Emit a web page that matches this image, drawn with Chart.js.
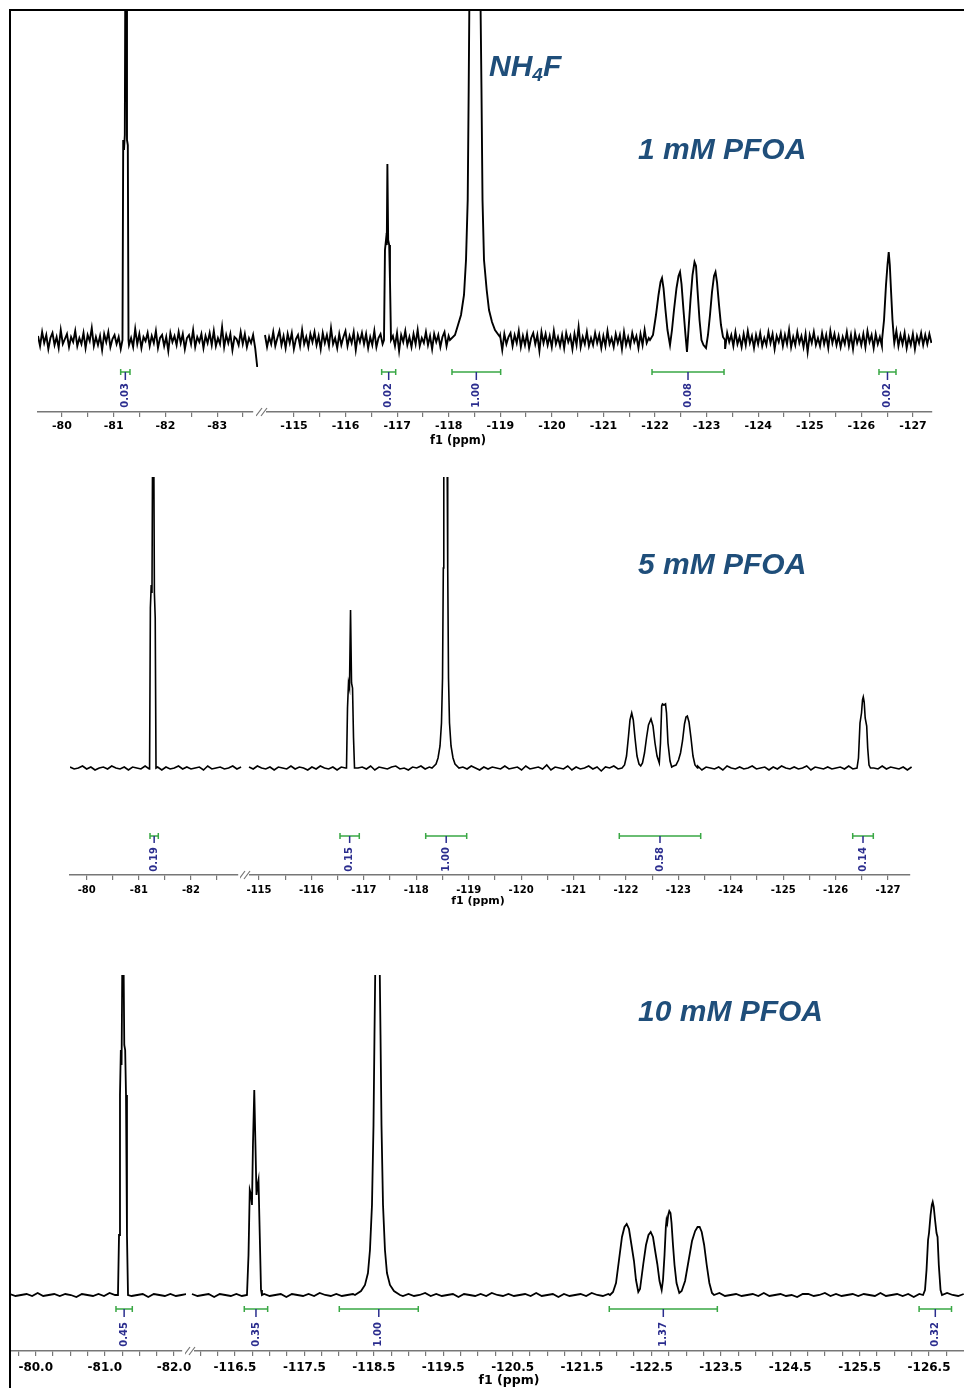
<!DOCTYPE html>
<html><head><meta charset="utf-8">
<script src="https://cdn.jsdelivr.net/npm/chart.js@4.4.1/dist/chart.umd.min.js"></script>
<style>
html,body{margin:0;padding:0;background:#fff;}
#root{position:relative;width:964px;height:1388px;overflow:hidden;background:#fff;}
#frame{position:absolute;left:9px;top:9px;width:970px;height:1400px;border-left:2px solid #000;border-top:2px solid #000;z-index:5;pointer-events:none;}
canvas{position:absolute;}
.big{position:absolute;font-family:"Liberation Sans",Arial,sans-serif;font-weight:bold;font-style:italic;font-size:30px;line-height:30px;color:#1f4e7a;white-space:nowrap;z-index:6;}
.f1{position:absolute;font-family:"DejaVu Sans",sans-serif;font-weight:bold;color:#000;white-space:nowrap;line-height:1;transform:translate(-50%,-50%);z-index:6;}
</style></head><body>
<div id="root">
<div id="frame"></div>
<div class="big" style="left:489px;top:51px;">NH<span style="font-size:19px;position:relative;top:5px;">4</span>F</div>
<div class="big" style="left:638px;top:134px;">1 mM PFOA</div>
<div class="big" style="left:638px;top:549px;">5 mM PFOA</div>
<div class="big" style="left:638px;top:996px;">10 mM PFOA</div>
<div class="f1" style="left:458px;top:441px;font-size:11.5px;">f1 (ppm)</div>
<div class="f1" style="left:478px;top:900px;font-size:11px;">f1 (ppm)</div>
<div class="f1" style="left:509px;top:1380px;font-size:12.5px;">f1 (ppm)</div>
</div>
<script>
// ---------------- DATA (ppm, intensity a.u.) ----------------
// Panel 1 : 1 mM PFOA
const P1_LEFT_NOISE_START = -79.536, P1_RIGHT_NOISE_START = -114.438, P1_NOISE_STEP = -0.04;
const p1LeftNoise = [4,-6,8,-3,5,-9,2,7,-5,3,-8,10,-4,1,6,-7,3,-2,9,-6,
 2,-4,7,-8,5,-1,12,-6,3,-5,4,-10,6,-2,8,-7,1,5,-4,3,
 -9,6,-3,8,-5,2,-7,11,-4,6,-8,3,-1,7,-6,4,-3,9,-8,2,
 5,-6,3,-11,7,-2,4,-5,8,-3,6,-9,2,5,-4,10,-7,3,-2,6,
 -8,4,-3,7,-5,9,-6,2,-4,13,-7,5,-3,6,-10,3,1,-5,8,-4,
 6,-7,2,-3,5,-8,-27];
const p1RightNoise = [5,-7,3,-4,8,-6,2,9,-5,4,-8,6,-3,7,-9,1,5,-6,10,-4,
 3,-7,6,-2,8,-5,4,-9,7,-3,5,-6,12,-4,2,-8,6,-5,3,9,
 -6,4,-3,8,-10,5,-2,7,-4,6,-8,3,-5,9,-7,2,6,-4,5,-9,
 8,-3,4,-6,7,-11,5,-2,9,-5,3,-7,6,-4,10,-6,2,-3,8,-5,
 4,-9,6,-2,5,-7,3,8,-6,4,-4,11,-8,5,-3,7,-6,2,-5,9,
 -4,6,-8,3,7,-5,2,-9,6,-3,5,-7,8,-2,4,-10,6,-4,3,7,
 -6,5,-3,9,-7,4,-5,6,-8,2,7,-4,5,-11,8,-3,6,-5,4,-7,
 9,-4,3,-6,5,-8,7,-2,4,-9,6,-5,13,-7,3,-4,8,-6,2,-5,
 7,-3,5,-8,4,-6,9,-4,2,-7,6,-3,5,-9,8,-5,3,-6,7,-2,
 4,-8,6,-5,10,-3,2,-7,5,-4,8,-6,3,-9,6,-2,4,-7,9,-5,
 3,-6,7,-4,5,-10,8,-3,6,-5,2,-8,7,-4,5,-6,11,-3,4,-7,
 6,-5,3,-9,7,-2,5,-6,8,-4,3,-7,6,-5,9,-3,4,-8,5,-4,
 7,-6,2,-5,8,-3,6,-9,4,-2,7,-6,5,-4,10,-7,3,-5,8,-3,
 4,-7,6,-12,5,-3,8,-5,2,-6,7,-4,5,-8,9,-3,6,-5,4,-7,
 3,-4,8,-6,5,-9,7,-3,4,-5,6,-7,9,-2,5,-8,6,-4,3,-6,
 8,-5,4,-7,6,-3,9,-6,5,-4,7,-8,3,-5,6,-9,4,-3,7,-5,
 5,-4,6,-3];
const p1Peak81 = [[-81.170,0],[-81.184,200],[-81.199,190],[-81.215,205],[-81.228,420],[-81.244,380],[-81.257,200],[-81.273,195],[-81.286,0]];
const p1Peak117 = [[-116.745,0],[-116.764,90],[-116.784,100],[-116.799,95],[-116.811,176],[-116.826,100],[-116.846,95],[-116.861,60],[-116.881,0]];
const p1PeakNH4F = [[-118.024,0],[-118.121,5],[-118.180,15],[-118.238,25],[-118.296,45],[-118.335,80],[-118.368,140],[-118.387,250],[-118.399,330],[-118.412,500],[-118.509,1500],[-118.606,500],[-118.618,330],[-118.635,250],[-118.655,140],[-118.684,80],[-118.736,50],[-118.781,30],[-118.839,18],[-118.897,10],[-118.994,3]];
const p1Peak122 = [[-121.902,0],[-121.960,5],[-122.018,25],[-122.067,45],[-122.106,58],[-122.135,62],[-122.164,52],[-122.202,30],[-122.241,10],[-122.290,-5],[-122.328,10],[-122.367,30],[-122.416,52],[-122.455,64],[-122.484,68],[-122.513,56],[-122.551,30],[-122.590,5],[-122.619,-12],[-122.648,10],[-122.687,40],[-122.726,65],[-122.765,78],[-122.794,74],[-122.823,50],[-122.862,20],[-122.900,0],[-122.939,-5],[-122.988,-8],[-123.026,5],[-123.065,25],[-123.104,48],[-123.143,64],[-123.172,68],[-123.201,58],[-123.240,35],[-123.278,15],[-123.317,3],[-123.356,0]];
const p1Peak126 = [[-126.400,0],[-126.439,20],[-126.477,55],[-126.506,75],[-126.530,88],[-126.551,75],[-126.574,50],[-126.603,20],[-126.632,0]];
const p1Integrals = [[-81.135,-81.315,'0.03'],[-116.700,-116.972,'0.02'],[-118.063,-119.007,'1.00'],[-121.941,-123.337,'0.08'],[-126.341,-126.671,'0.02']];

// Panel 2 : 5 mM PFOA
const P2_LEFT_NOISE_START = -79.68, P2_RIGHT_NOISE_START = -114.809, P2_NOISE_STEP = -0.08;
const p2LeftNoise = [1,-1,0,2,-1,1,-2,0,1,-1,2,0,-1,1,-2,1,0,-1,2,-1,0,1,-2,1,-1,0,2,-1,1,-1,0,1,-2,2,-1,0,1,-1,0,2,-1,1];
const p2RightNoise = [1,-1,2,0,-1,1,-2,1,0,-1,2,-1,1,0,-2,1,-1,2,0,-1,
 1,-2,1,0,2,-1,0,1,-1,2,-2,1,0,-1,1,2,-1,0,-2,1,
 0,2,-1,1,-1,0,2,-2,1,-1,0,1,-1,2,0,-2,1,-1,1,0,
 -1,2,-1,0,1,-2,2,-1,0,1,-1,3,-2,1,0,-1,2,-2,1,-1,
 0,2,-1,1,-3,1,0,2,-1,1,-2,0,1,-1,2,-1,0,1,-2,1,
 -1,0,2,-1,1,-1,0,2,-2,1,0,-1,1,-2,2,0,-1,1,-1,0,
 2,-1,0,1,-2,1,-1,2,0,-1,1,-1,0,2,-2,1,0,-1,1,-1,
 0,1,-1,2,-1,0,1,-2,1,0,-1,2,-1,1,0,-1,1,-2,1];
const p2Peak81 = [[-81.206,0],[-81.221,160],[-81.237,183],[-81.252,175],[-81.268,380],[-81.283,360],[-81.298,175],[-81.314,150],[-81.329,0]];
const p2Peak117 = [[-116.669,0],[-116.688,60],[-116.707,85],[-116.726,80],[-116.746,158],[-116.765,85],[-116.784,80],[-116.803,30],[-116.822,0]];
const p2PeakNH4F = [[-118.300,0],[-118.377,4],[-118.415,10],[-118.453,22],[-118.481,45],[-118.501,90],[-118.516,200],[-118.525,300],[-118.539,600],[-118.558,900],[-118.577,600],[-118.590,300],[-118.600,200],[-118.615,90],[-118.634,45],[-118.663,22],[-118.701,10],[-118.739,4],[-118.815,0]];
const p2Peak122 = [[-121.925,0],[-121.973,3],[-122.011,12],[-122.049,32],[-122.077,48],[-122.110,55],[-122.140,48],[-122.173,30],[-122.211,12],[-122.249,4],[-122.282,2],[-122.316,5],[-122.354,15],[-122.392,30],[-122.430,43],[-122.478,49],[-122.516,42],[-122.554,25],[-122.593,12],[-122.636,5],[-122.659,25],[-122.682,62],[-122.697,64],[-122.726,63],[-122.755,64],[-122.774,55],[-122.802,25],[-122.841,7],[-122.873,1],[-122.907,2],[-122.955,3],[-123.003,8],[-123.041,15],[-123.079,27],[-123.117,44],[-123.146,51],[-123.171,52],[-123.203,46],[-123.241,30],[-123.279,12],[-123.317,3],[-123.365,0]];
const p2Peak126 = [[-126.408,0],[-126.436,10],[-126.465,45],[-126.494,55],[-126.513,68],[-126.528,71],[-126.545,66],[-126.564,50],[-126.593,42],[-126.612,20],[-126.637,3],[-126.665,0]];
const p2Integrals = [[-81.214,-81.373,'0.19'],[-116.545,-116.913,'0.15'],[-118.180,-118.962,'1.00'],[-121.873,-123.426,'0.58'],[-126.326,-126.719,'0.14']];

// Panel 3 : 10 mM PFOA
const P3_LEFT_NOISE_START = -79.628, P3_RIGHT_NOISE_START = -115.880, P3_NOISE_STEP = -0.08;
const p3LeftNoise = [1,-1,0,1,-1,2,-1,0,1,-1,1,0,-2,1,0,-1,1,-1,2,0,-1,1,-1,0,1,-2,1,0,-1,1,-1,0,1];
const p3RightNoise = [1,-1,0,1,-2,1,0,-1,1,-1,2,0,-1,1,-1,0,1,-2,1,0,
 -1,1,-1,2,0,-1,1,-1,0,1,-1,2,-1,0,1,-2,1,0,-1,1,
 -1,0,2,-1,1,-1,0,1,-2,1,0,-1,1,-1,2,0,-1,1,-1,0,
 1,-1,2,-1,0,1,-2,1,-1,0,1,-1,2,0,-1,1,-1,0,1,-2,
 1,0,-1,1,-1,2,-1,0,1,-1,1,-2,1,0,-1,2,-1,0,1,-1,
 0,1,-1,2,-1,0,1,-1,0,-2,1,1,-1,0,2,-1,1,-1,0,1,
 -1,1,0,-1,2,-1,0,1,-1,1,-2,1,0,-1,1,-1,2,0,-1,1];
const p3Peak81 = [[-81.190,0],[-81.205,60],[-81.219,200],[-81.231,245],[-81.242,230],[-81.255,360],[-81.270,340],[-81.281,250],[-81.294,245],[-81.306,200],[-81.320,60],[-81.335,0]];
const p3Peak117 = [[-116.673,0],[-116.695,40],[-116.713,105],[-116.731,100],[-116.745,90],[-116.759,150],[-116.778,205],[-116.795,150],[-116.810,100],[-116.826,110],[-116.839,115],[-116.857,60],[-116.875,5],[-116.889,0]];
const p3PeakNH4F = [[-118.229,0],[-118.316,4],[-118.373,10],[-118.416,22],[-118.445,45],[-118.474,90],[-118.496,170],[-118.510,260],[-118.522,330],[-118.553,900],[-118.585,330],[-118.597,260],[-118.611,170],[-118.633,90],[-118.661,45],[-118.690,22],[-118.733,10],[-118.791,4],[-118.878,0]];
const p3Peak122 = [[-121.903,0],[-121.947,3],[-121.990,12],[-122.033,35],[-122.076,58],[-122.112,68],[-122.144,71],[-122.177,66],[-122.213,50],[-122.249,34],[-122.278,15],[-122.311,3],[-122.336,6],[-122.383,31],[-122.422,50],[-122.458,60],[-122.490,63],[-122.523,58],[-122.559,42],[-122.585,31],[-122.617,14],[-122.648,5],[-122.667,15],[-122.689,40],[-122.708,68],[-122.718,75],[-122.729,72],[-122.742,80],[-122.758,84],[-122.775,82],[-122.790,72],[-122.811,50],[-122.833,30],[-122.862,12],[-122.902,2],[-122.936,4],[-122.985,14],[-123.035,34],[-123.085,54],[-123.130,64],[-123.165,68],[-123.195,68],[-123.225,63],[-123.260,50],[-123.297,30],[-123.335,12],[-123.373,2],[-123.402,0]];
const p3Peak126 = [[-126.414,0],[-126.442,5],[-126.464,25],[-126.486,55],[-126.500,62],[-126.522,80],[-126.540,90],[-126.553,93],[-126.568,88],[-126.587,75],[-126.608,62],[-126.623,58],[-126.641,30],[-126.666,5],[-126.687,0]];
const p3Integrals = [[-81.161,-81.397,'0.45'],[-116.634,-116.971,'0.35'],[-118.003,-119.141,'1.00'],[-121.893,-123.450,'1.37'],[-126.357,-126.824,'0.32']];

// Tick values
const p1LeftTickLabels = [-80,-81,-82,-83];
const p1LeftMinorTicks = [-80.5,-81.5,-82.5,-83.5];
const p1RightTickLabels = [-115,-116,-117,-118,-119,-120,-121,-122,-123,-124,-125,-126,-127];
const p1RightMinorTicks = [-115.5,-116.5,-117.5,-118.5,-119.5,-120.5,-121.5,-122.5,-123.5,-124.5,-125.5,-126.5];
const p2LeftTickLabels = [-80,-81,-82];
const p2LeftMinorTicks = [-80.5,-81.5,-82.5];
const p2RightTickLabels = p1RightTickLabels;
const p2RightMinorTicks = p1RightMinorTicks;
const p3LeftTickLabels = [-80,-81,-82];
const p3LeftMinorTicks = [-79.75,-80.25,-80.5,-80.75,-81.25,-81.5,-81.75];
const p3RightTickLabels = [-116.5,-117.5,-118.5,-119.5,-120.5,-121.5,-122.5,-123.5,-124.5,-125.5,-126.5];
const p3RightMinorTicks = [-116,-116.25,-116.75,-117,-117.25,-117.75,-118,-118.25,-118.75,-119,-119.25,-119.75,-120,-120.25,-120.75,-121,-121.25,-121.75,-122,-122.25,-122.75,-123,-123.25,-123.75,-124,-124.25,-124.75,-125,-125.25,-125.75,-126,-126.25,-126.75];

// ---------------- BUILD ----------------
function buildTrace(start, step, noise, peaks) {
  const ranges = peaks.map(p => [Math.min(...p.map(q => q[0])), Math.max(...p.map(q => q[0]))]);
  const pts = [];
  noise.forEach((v, i) => {
    const x = start + i * step;
    if (!ranges.some(r => x >= r[0] - 1e-9 && x <= r[1] + 1e-9)) pts.push({x, y: v});
  });
  peaks.forEach(p => p.forEach(q => pts.push({x: q[0], y: q[1]})));
  pts.sort((a, b) => b.x - a.x);
  return pts;
}

const integralPlugin = {
  id: 'integrals',
  afterDatasetsDraw(chart, args, o) {
    const {ctx, chartArea, scales} = chart;
    const xs = scales.x;
    const yb = chartArea.bottom - o.barOff;
    ctx.save();
    o.items.forEach(it => {
      const x1 = xs.getPixelForValue(it[0]), x2 = xs.getPixelForValue(it[1]);
      const cx = (x1 + x2) / 2;
      ctx.strokeStyle = '#3aa845'; ctx.lineWidth = 1.5;
      ctx.beginPath();
      ctx.moveTo(x1, yb); ctx.lineTo(x2, yb);
      ctx.moveTo(x1, yb - 3); ctx.lineTo(x1, yb + 3);
      ctx.moveTo(x2, yb - 3); ctx.lineTo(x2, yb + 3);
      ctx.stroke();
      ctx.strokeStyle = '#2b2d8e'; ctx.lineWidth = 1.5;
      ctx.beginPath(); ctx.moveTo(cx, yb); ctx.lineTo(cx, yb + o.tickLen); ctx.stroke();
      ctx.save();
      ctx.translate(cx, yb + o.textOff);
      ctx.rotate(-Math.PI / 2);
      ctx.fillStyle = '#2b2d8e';
      ctx.font = 'bold 10px "DejaVu Sans"';
      ctx.textAlign = 'right'; ctx.textBaseline = 'middle';
      ctx.fillText(it[2], 0, 0);
      ctx.restore();
    });
    if (o.brk) {
      const L = chartArea.left, B = chartArea.bottom;
      ctx.strokeStyle = '#777'; ctx.lineWidth = 1.2;
      ctx.beginPath();
      ctx.moveTo(L - 11, B + 4); ctx.lineTo(L - 5, B - 4);
      ctx.moveTo(L - 6, B + 4); ctx.lineTo(L, B - 4);
      ctx.stroke();
    }
    ctx.restore();
  }
};

const root = document.getElementById('root');
function seg(c) {
  const cv = document.createElement('canvas');
  cv.width = c.w; cv.height = c.h;
  cv.style.left = c.left + 'px'; cv.style.top = c.top + 'px';
  cv.style.width = c.w + 'px'; cv.style.height = c.h + 'px';
  root.appendChild(cv);
  const allTicks = c.labels.concat(c.minor).sort((a, b) => b - a);
  const items = c.integrals.filter(it => { const m = (it[0] + it[1]) / 2; return m >= c.min && m <= c.max; });
  new Chart(cv, {
    type: 'scatter',
    data: {datasets: [{data: c.data, showLine: true, pointRadius: 0, pointHoverRadius: 0, borderColor: '#000', borderWidth: c.lw, tension: 0, clip: c.clip}]},
    options: {
      responsive: false, animation: false, devicePixelRatio: 1,
      layout: {padding: c.pad},
      events: [],
      plugins: {legend: {display: false}, tooltip: {enabled: false},
        integrals: {items: items, barOff: c.barOff, tickLen: c.tickLen, textOff: c.textOff, brk: c.brk}},
      scales: {
        x: {type: 'linear', reverse: true, min: c.min, max: c.max, bounds: 'data',
          afterBuildTicks: s => { s.ticks = allTicks.map(v => ({value: v})); },
          afterFit: s => { s.height = c.axisH; },
          grid: {drawOnChartArea: false, drawTicks: true, tickLength: 5, color: '#777', lineWidth: 1.2},
          border: {display: true, color: '#777', width: 1.5},
          ticks: {autoSkip: false, maxRotation: 0, minRotation: 0, padding: c.tickPad, color: '#000',
            font: {family: 'DejaVu Sans', weight: 'bold', size: c.font},
            callback: v => c.labels.some(t => Math.abs(t - v) < 1e-6) ? v.toFixed(c.dec) : ''}
        },
        y: {display: false, min: c.ymin, max: c.ymax}
      }
    },
    plugins: [integralPlugin]
  });
}

// Panel 1
const P1 = {top: 0, h: 452, axisH: 40, ymin: -72, ymax: 330, lw: 1.9, font: 11, tickPad: 3, dec: 0, integrals: p1Integrals, barOff: 40, tickLen: 8, textOff: 11};
seg(Object.assign({}, P1, {left: 30, w: 228, pad: {left: 8, right: 5, top: 10, bottom: 0}, min: -83.694, max: -79.536,
  data: buildTrace(P1_LEFT_NOISE_START, P1_NOISE_STEP, p1LeftNoise, [p1Peak81]),
  clip: {left: 0, right: 6, top: 0, bottom: 10}, labels: p1LeftTickLabels, minor: p1LeftMinorTicks, brk: false}));
seg(Object.assign({}, P1, {left: 256, w: 694, pad: {left: 11, right: 18, top: 10, bottom: 0}, min: -127.369, max: -114.477,
  data: buildTrace(P1_RIGHT_NOISE_START, P1_NOISE_STEP, p1RightNoise, [p1Peak117, p1PeakNH4F, p1Peak122, p1Peak126]),
  clip: {left: 3, right: 0, top: 0, bottom: 10}, labels: p1RightTickLabels, minor: p1RightMinorTicks, brk: true}));

// Panel 2
const P2 = {top: 460, h: 455, axisH: 40, ymin: -107, ymax: 291, lw: 1.6, font: 10, tickPad: 4, dec: 0, integrals: p2Integrals, barOff: 39, tickLen: 7, textOff: 11};
seg(Object.assign({}, P2, {left: 60, w: 186, pad: {left: 10, right: 8, top: 17, bottom: 0}, min: -82.901, max: -79.68,
  data: buildTrace(P2_LEFT_NOISE_START, P2_NOISE_STEP, p2LeftNoise, [p2Peak81]),
  clip: {left: 0, right: 6, top: 0, bottom: 10}, labels: p2LeftTickLabels, minor: p2LeftMinorTicks, brk: false}));
seg(Object.assign({}, P2, {left: 240, w: 685, pad: {left: 10, right: 15, top: 17, bottom: 0}, min: -127.419, max: -114.828,
  data: buildTrace(P2_RIGHT_NOISE_START, P2_NOISE_STEP, p2RightNoise, [p2Peak117, p2PeakNH4F, p2Peak122, p2Peak126]),
  clip: {left: 2, right: 2, top: 0, bottom: 10}, labels: p2RightTickLabels, minor: p2RightMinorTicks, brk: true}));

// Panel 3
const P3 = {top: 960, h: 428, axisH: 37, ymin: -56, ymax: 320, lw: 1.8, font: 12, tickPad: 5, dec: 1, integrals: p3Integrals, barOff: 42, tickLen: 8, textOff: 13};
seg(Object.assign({}, P3, {left: 0, w: 200, pad: {left: 10, right: 18, top: 15, bottom: 0}, min: -82.116, max: -79.628,
  data: buildTrace(P3_LEFT_NOISE_START, P3_NOISE_STEP, p3LeftNoise, [p3Peak81]),
  clip: {left: 0, right: 4, top: 0, bottom: 10}, labels: p3LeftTickLabels, minor: p3LeftMinorTicks, brk: false}));
seg(Object.assign({}, P3, {left: 185, w: 779, pad: {left: 10, right: 0, top: 15, bottom: 0}, min: -127.004, max: -115.924,
  data: buildTrace(P3_RIGHT_NOISE_START, P3_NOISE_STEP, p3RightNoise, [p3Peak117, p3PeakNH4F, p3Peak122, p3Peak126]),
  clip: {left: 4, right: 0, top: 0, bottom: 10}, labels: p3RightTickLabels, minor: p3RightMinorTicks, brk: true}));
</script>
</body></html>
